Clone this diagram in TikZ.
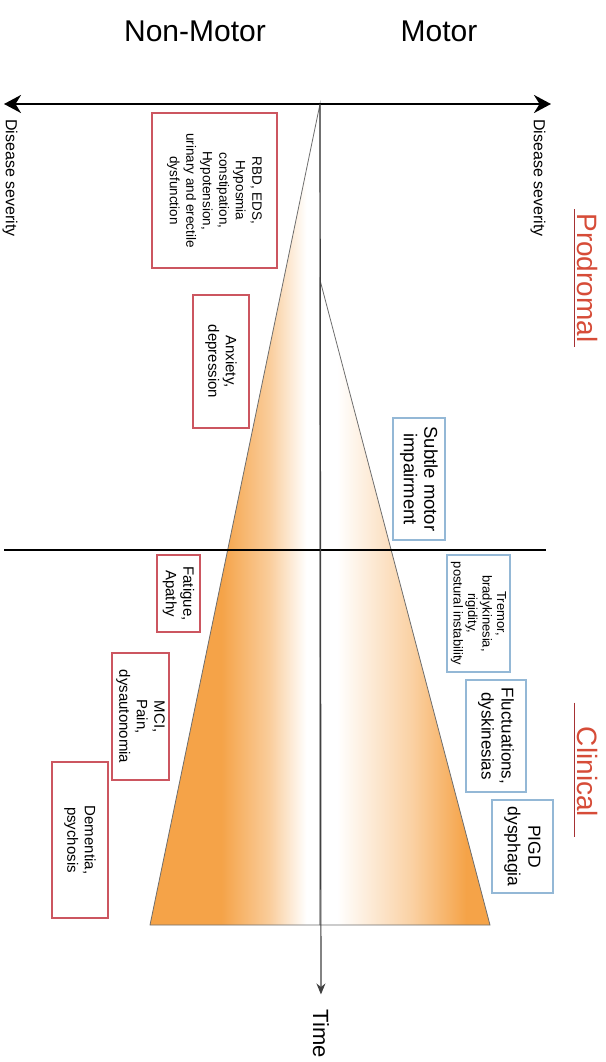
\documentclass[tikz,border=0pt]{standalone}
\usepackage{fontspec}
\setmainfont{Liberation Sans}
\usetikzlibrary{arrows.meta,positioning}
\definecolor{nmred}{RGB}{204,86,96}
\definecolor{mblue}{RGB}{148,184,214}
\definecolor{pdorange}{RGB}{245,163,72}
\definecolor{phasered}{RGB}{214,76,56}
\definecolor{phaseline}{RGB}{166,50,52}
\definecolor{edgegray}{RGB}{110,110,110}
\pgfdeclarehorizontalshading{nmfade}{100bp}{color(0bp)=(pdorange); color(25bp)=(pdorange); color(46bp)=(pdorange); color(60bp)=(pdorange!55); color(71bp)=(white); color(100bp)=(white)}
\pgfdeclarehorizontalshading{mfade}{100bp}{color(0bp)=(white); color(30bp)=(white); color(52bp)=(pdorange!50); color(68bp)=(pdorange); color(100bp)=(pdorange)}

\begin{document}
\begin{tikzpicture}[x=1pt,y=-1pt,
    nmbox/.style={draw=nmred,line width=1.1pt,rotate=-90,align=center,inner sep=1pt,fill=white},
    mbox/.style={draw=mblue,line width=1.1pt,rotate=-90,align=center,inner sep=1pt,fill=white},
    txs/.style={font=\fontsize{13.5}{16.5}\selectfont},
    txm/.style={font=\fontsize{15}{17.5}\selectfont},
    txl/.style={font=\fontsize{17.5}{20.5}\selectfont},
    side/.style={rotate=-90,font=\fontsize{16}{18}\selectfont},
    phase/.style={rotate=-90,inner sep=2pt,text=phasered,font=\fontsize{28}{32}\selectfont},
    title/.style={font=\fontsize{30}{34}\selectfont},
    sevarrow/.style={line width=2.4pt,{Stealth[length=17pt,width=18pt]}-{Stealth[length=17pt,width=18pt]}},
    splitline/.style={line width=2.2pt,-},
    timearrow/.style={line width=1.2pt,draw=black!75,-{Stealth[length=11pt,width=9pt]},shorten >=12pt},
    tri/.style={draw=edgegray,line width=0.8pt}]
    \useasboundingbox (0,0) rectangle (605,1062);

    \coordinate (sevL) at (4,104);
    \coordinate (sevR) at (551,104);
    \coordinate (apex) at (320,104);
    \coordinate (mapex) at (320,280);
    \coordinate (nmbase) at (150,925);
    \coordinate (base) at (320,925);
    \coordinate (mbase) at (490,925);
    \coordinate (splitL) at (4,550);
    \coordinate (splitR) at (546,550);

    \shadedraw[shading=nmfade,tri] (apex) -- (nmbase) -- (base) -- cycle;
    \shadedraw[shading=mfade,tri] (mapex) -- (mbase) -- (base) -- cycle;

    \node[title] (nonmotor) at (195,31) {Non-Motor};
    \node[title] (motor) at (439,31) {Motor};
    \node[side] (sevleft) at (10,178) {Disease severity};
    \node[side] (sevright) at (538,178) {Disease severity};
    \node[side,font=\fontsize{22}{24}\selectfont] (time) at (321,1034) {Time};
    \node[phase] (prodromal) at (587,278) {Prodromal};
    \node[phase] (clinical) at (587,772) {Clinical};

    \node[nmbox,txs,minimum width=155pt,minimum height=125pt] (rbd) at (214.5,190.5) {RBD, EDS,\\Hyposmia\\constipation,\\Hypotension,\\urinary and erectile\\dysfunction};
    \node[nmbox,txm,minimum width=133pt,minimum height=56pt] (anxiety) at (221,361.5) {Anxiety,\\depression};
    \node[nmbox,txm,minimum width=77pt,minimum height=43pt] (fatigue) at (178.5,593.5) {Fatigue,\\Apathy};
    \node[nmbox,txm,minimum width=127pt,minimum height=57pt] (mci) at (140.5,716.5) {MCI,\\Pain,\\dysautonomia};
    \node[nmbox,txm,minimum width=156pt,minimum height=56pt] (dementia) at (80,840) {Dementia,\\psychosis};

    \node[mbox,txl,font=\fontsize{18.5}{20.5}\selectfont,minimum width=122pt,minimum height=52pt] (subtle) at (419,479) {Subtle motor\\impairment};
    \node[mbox,txs,font=\fontsize{13}{14.5}\selectfont,minimum width=117pt,minimum height=63pt] (tremor) at (478.5,613.5) {Tremor,\\bradykinesia,\\rigidity,\\postural instability};
    \node[mbox,txl,font=\fontsize{17}{20}\selectfont,minimum width=112pt,minimum height=60pt] (fluct) at (496,736) {Fluctuations,\\dyskinesias};
    \node[mbox,txl,minimum width=93pt,minimum height=61pt] (pigd) at (522.5,846.5) {PIGD\\dysphagia};

    \path
        (sevL) edge[sevarrow] (sevR)
        (splitL) edge[splitline] (splitR)
        (apex) edge[timearrow] (time)
        ;
    \draw[phaseline,line width=1.4pt,shorten <=-2pt,shorten >=-2pt] (prodromal.south west) -- (prodromal.south east);
    \draw[phaseline,line width=1.4pt,shorten <=-22pt,shorten >=-18pt] (clinical.south west) -- (clinical.south east);
\end{tikzpicture}
\end{document}
